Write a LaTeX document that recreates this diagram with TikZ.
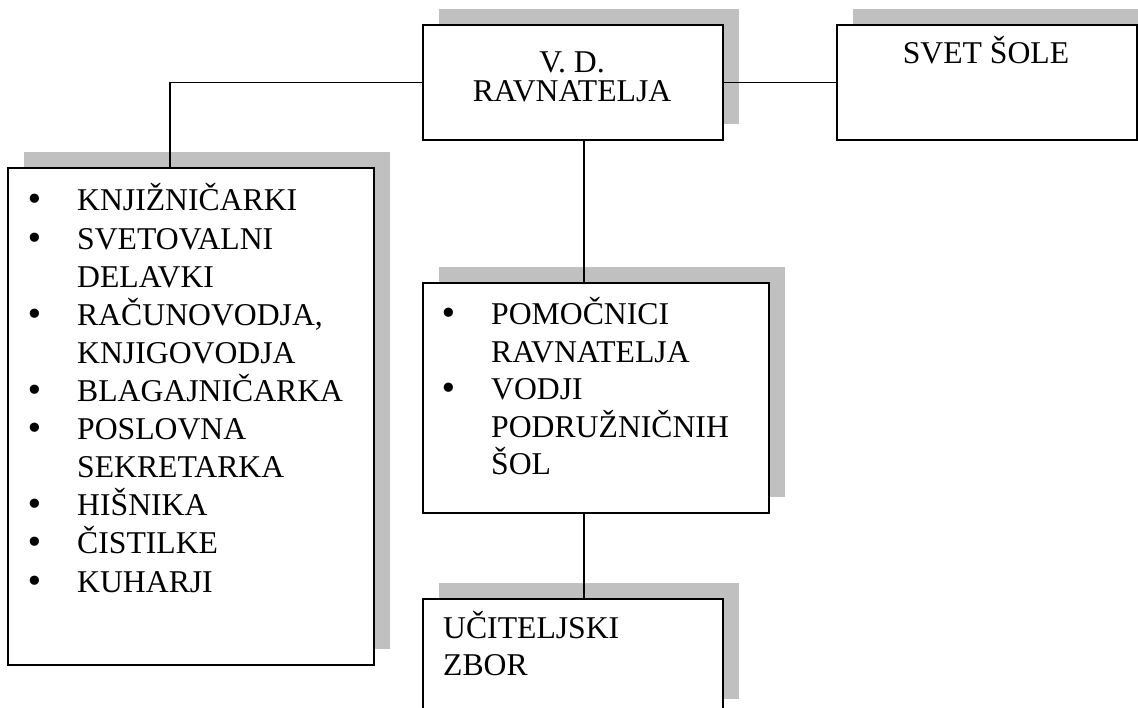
\documentclass[tikz,border=0pt]{standalone}
\usepackage{fontspec}
\setmainfont{Liberation Serif}
\newfontfamily\bulfont{DejaVu Sans}
\usetikzlibrary{shadows,calc}
\definecolor{shadowgray}{RGB}{192,192,192}
\begin{document}
\begin{tikzpicture}[x=1pt,y=-1pt,
  box/.style={draw=black, line width=2.1pt, fill=white, rectangle, inner sep=0pt, anchor=north west,
    general shadow={shadow xshift=16pt, shadow yshift=16.5pt, fill=shadowgray, draw=none}},
  lbl/.style={inner sep=0pt, font=\fontsize{31.7}{38}\selectfont},
  ctext/.style={lbl, anchor=base},
  bul/.style={inner sep=0pt, anchor=base, font=\bulfont\fontsize{31.7}{38}\selectfont},
  itemtext/.style={lbl, anchor=base west},
  conn/.style={line width=1.9pt}]
\useasboundingbox (0,0) rectangle (1138,708);

% boxes
\node[box, minimum width=300pt, minimum height=115pt] (vd) at (422,24) {};
\node[box, minimum width=300pt, minimum height=115pt] (svet) at (836,24) {};
\node[box, minimum width=366pt, minimum height=497pt] (staff) at (7,167) {};
\node[box, minimum width=346pt, minimum height=230pt] (assist) at (422,282) {};
\node[box, minimum width=300pt, minimum height=116pt] (zbor) at (422,598) {};

% top texts
\node[ctext] (vd1) at (572,73) {V. D.};
\node[ctext] (vd2) at (572,102) {RAVNATELJA};
\node[ctext] (svett) at (986,64) {SVET ŠOLE};

% left list
\node[bul] (sb1) at (35,211) {•};
\node[itemtext] (s1) at (77,211) {KNJIŽNIČARKI};
\node[bul] (sb2) at (35,249.1) {•};
\node[itemtext] (s2) at (77,249.1) {SVETOVALNI};
\node[itemtext] (s2b) at (77,287.2) {DELAVKI};
\node[bul] (sb3) at (35,325.3) {•};
\node[itemtext] (s3) at (77,325.3) {RAČUNOVODJA,};
\node[itemtext] (s3b) at (77,363.4) {KNJIGOVODJA};
\node[bul] (sb4) at (35,401.5) {•};
\node[itemtext] (s4) at (77,401.5) {BLAGAJNIČARKA};
\node[bul] (sb5) at (35,439.6) {•};
\node[itemtext] (s5) at (77,439.6) {POSLOVNA};
\node[itemtext] (s5b) at (77,477.7) {SEKRETARKA};
\node[bul] (sb6) at (35,515.8) {•};
\node[itemtext] (s6) at (77,515.8) {HIŠNIKA};
\node[bul] (sb7) at (35,553.9) {•};
\node[itemtext] (s7) at (77,553.9) {ČISTILKE};
\node[bul] (sb8) at (35,592) {•};
\node[itemtext] (s8) at (77,592) {KUHARJI};

% middle list
\node[bul] (ab1) at (449,325) {•};
\node[itemtext] (a1) at (491,325) {POMOČNICI};
\node[itemtext] (a1b) at (491,362.5) {RAVNATELJA};
\node[bul] (ab2) at (449,400) {•};
\node[itemtext] (a2) at (491,400) {VODJI};
\node[itemtext] (a2b) at (491,437.5) {PODRUŽNIČNIH};
\node[itemtext] (a2c) at (491,475) {ŠOL};

% bottom box text
\node[itemtext] (z1) at (443,638) {UČITELJSKI};
\node[itemtext] (z2) at (443,675) {ZBOR};

% connectors
\coordinate (vdtap) at ($(vd.south)+(11,0)$);
\coordinate (astap) at ($(assist.south)+(-12,0)$);
\draw[conn] (vd.east) -- (svet.west);
\draw[conn] (vd.west) -| ([xshift=-21pt]staff.north);
\draw[conn] (vdtap) -- (vdtap |- assist.north);
\draw[conn] (astap) -- (astap |- zbor.north);
\end{tikzpicture}
\end{document}
